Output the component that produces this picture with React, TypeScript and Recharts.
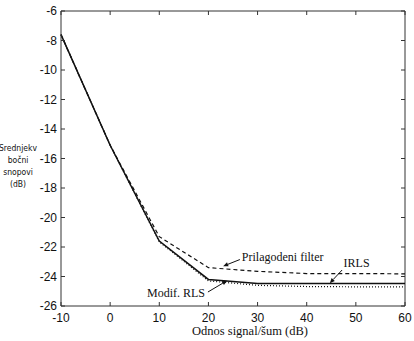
import React from 'react';
import { LineChart, Line, XAxis, YAxis, ReferenceDot, ReferenceLine, Label } from 'recharts';

const snr = [-10, 0, 10, 20, 30, 40, 50, 60];
const prilagodeni = [-7.6, -15.1, -21.3, -23.4, -23.65, -23.8, -23.8, -23.82];
const irls = [-7.6, -15.1, -21.6, -24.2, -24.48, -24.48, -24.48, -24.48];
const modifRls = [-7.6, -15.1, -21.65, -24.3, -24.6, -24.68, -24.7, -24.7];
const xTicks = [-10, 0, 10, 20, 30, 40, 50, 60];
const yTicks = [-26, -24, -22, -20, -18, -16, -14, -12, -10, -8, -6];
const yLabelLines = ['Srednjekv', 'bočni', 'snopovi', '(dB)'];
const xLabel = 'Odnos signal/šum (dB)';

const X_MIN = -10;
const X_MAX = 60;
const Y_MIN = -26;
const Y_MAX = -6;

const notes = [
  { text: 'Prilagodeni filter', x: 26.8, y: -22.95 },
  { text: 'IRLS', x: 47.5, y: -23.36 },
  { text: 'Modif. RLS', x: 7.5, y: -25.4 },
];
const arrows = [
  { x1: 26.4, y1: -22.85, x2: 23.0, y2: -23.3 },
  { x1: 47.2, y1: -23.56, x2: 44.7, y2: -24.45 },
  { x1: 19.9, y1: -25.05, x2: 23.8, y2: -24.28 },
];

const data = snr.map((s, i) => ({ snr: s, p: prilagodeni[i], i: irls[i], m: modifRls[i] }));

const INK = '#111';
const FRAME = '#333';
const SERIF = '"Liberation Serif", "Times New Roman", serif';
const SANS = '"Liberation Sans", Arial, sans-serif';
const NARROW = '"Liberation Sans Narrow", "DejaVu Sans Condensed", "Liberation Sans", sans-serif';

const NoteText = (props: any) => {
  const { cx, cy, text } = props;
  return (
    <text x={cx} y={cy} fontFamily={SERIF} fontSize={12} fill={INK}>
      {text}
    </text>
  );
};

const TickMark = (props: any) => {
  const { cx, cy, dx, dy } = props;
  if (typeof cx !== 'number' || typeof cy !== 'number') return null;
  return <line x1={cx} y1={cy} x2={cx + dx} y2={cy + dy} stroke={FRAME} strokeWidth={1} />;
};

const Arrow = (props: any) => {
  const { x1, y1, x2, y2 } = props;
  if ([x1, y1, x2, y2].some((v) => typeof v !== 'number' || isNaN(v))) return null;
  const dx = x2 - x1;
  const dy = y2 - y1;
  const len = Math.sqrt(dx * dx + dy * dy) || 1;
  const ux = dx / len;
  const uy = dy / len;
  const hl = 5;
  const hw = 2.2;
  const bx = x2 - ux * hl;
  const by = y2 - uy * hl;
  const pts = `${x2},${y2} ${bx - uy * hw},${by + ux * hw} ${bx + uy * hw},${by - ux * hw}`;
  return (
    <g>
      <line x1={x1} y1={y1} x2={bx} y2={by} stroke={INK} strokeWidth={1} />
      <polygon points={pts} fill={INK} />
    </g>
  );
};

const tickDots = [
  ...xTicks.map((t) => ({ x: t, y: Y_MIN, dx: 0, dy: -4 })),
  ...xTicks.map((t) => ({ x: t, y: Y_MAX, dx: 0, dy: 4 })),
  ...yTicks.map((t) => ({ x: X_MIN, y: t, dx: 4, dy: 0 })),
  ...yTicks.map((t) => ({ x: X_MAX, y: t, dx: -4, dy: 0 })),
];

export default function App() {
  return (
    <div style={{ position: 'absolute', left: 0, top: 0, width: 414, height: 341, background: '#fff' }}>
      <LineChart
        width={414}
        height={341}
        data={data}
        margin={{ top: 11, right: 9, bottom: 15, left: 21 }}
      >
        <XAxis
          dataKey="snr"
          type="number"
          domain={[X_MIN, X_MAX]}
          ticks={xTicks}
          height={20}
          tickLine={false}
          tickSize={0}
          tickMargin={7}
          axisLine={{ stroke: FRAME }}
          tick={{ fontSize: 12, fill: INK, fontFamily: SANS }}
          interval={0}
        >
          <Label
            content={(p: any) => {
              const vb = p.viewBox || {};
              return (
                <text
                  x={vb.x + vb.width / 2 + 17}
                  y={vb.y + 29}
                  textAnchor="middle"
                  fontFamily={SERIF}
                  fontSize={12.5}
                  fill={INK}
                >
                  {xLabel}
                </text>
              );
            }}
          />
        </XAxis>
        <YAxis
          type="number"
          domain={[Y_MIN, Y_MAX]}
          ticks={yTicks}
          width={40}
          tickLine={false}
          tickSize={0}
          tickMargin={4}
          axisLine={{ stroke: FRAME }}
          tick={{ fontSize: 12, fill: INK, fontFamily: SANS }}
          interval={0}
        >
          <Label
            content={(p: any) => {
              const vb = p.viewBox || {};
              const cx = vb.x - 3;
              const cy = vb.y + vb.height / 2;
              return (
                <text textAnchor="middle" fontFamily={NARROW} fontSize={8.5} fill={INK}>
                  {yLabelLines.map((t, k) => (
                    <tspan key={k} x={cx} y={cy - 8 + k * 12}>
                      {t}
                    </tspan>
                  ))}
                </text>
              );
            }}
          />
        </YAxis>
        <ReferenceLine y={Y_MAX} stroke={FRAME} strokeWidth={1} />
        <ReferenceLine x={X_MAX} stroke={FRAME} strokeWidth={1} />
        {tickDots.map((d, k) => (
          <ReferenceDot
            key={'t' + k}
            x={d.x}
            y={d.y}
            r={0}
            shape={(p: any) => <TickMark {...p} dx={d.dx} dy={d.dy} />}
          />
        ))}
        <Line
          dataKey="m"
          stroke={INK}
          strokeWidth={1.2}
          strokeDasharray="1 2"
          dot={false}
          isAnimationActive={false}
        />
        <Line
          dataKey="p"
          stroke={INK}
          strokeWidth={1.2}
          strokeDasharray="4 3"
          dot={false}
          isAnimationActive={false}
        />
        <Line
          dataKey="i"
          stroke={INK}
          strokeWidth={1.5}
          dot={false}
          isAnimationActive={false}
        />
        {notes.map((n, k) => (
          <ReferenceDot
            key={'n' + k}
            x={n.x}
            y={n.y}
            r={0}
            shape={(p: any) => <NoteText {...p} text={n.text} />}
          />
        ))}
        {arrows.map((a, k) => (
          <ReferenceLine
            key={'a' + k}
            segment={[
              { x: a.x1, y: a.y1 },
              { x: a.x2, y: a.y2 },
            ]}
            shape={(p: any) => <Arrow {...p} />}
          />
        ))}
      </LineChart>
    </div>
  );
}
